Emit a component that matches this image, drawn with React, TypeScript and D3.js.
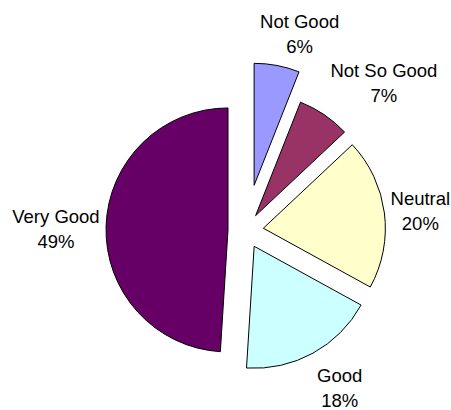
import React from "react";
import * as d3 from "d3";

const categories = ["Not Good", "Not So Good", "Neutral", "Good", "Very Good"];
const values = [6, 7, 20, 18, 49];
const percentLabels = ["6%", "7%", "20%", "18%", "49%"];

// styling
const colors = ["#9999FF", "#993366", "#FFFFCC", "#CCFFFF", "#660066"];
const explode = [46, 18, 18, 18, 17.5];
// label placement relative to slice apex: [distance, angle in degrees]
const labelPolar: [number, number][] = [
  [164.1, 163.9],
  [189.2, 137.3],
  [158.7, 98.4],
  [160.4, 32.2],
  [172.2, 267.6],
];

const W = 451;
const H = 410;
const CX = 245.5;
const CY = 230.5;
const R = 122;

export default function App() {
  const pie = d3
    .pie<number>()
    .sort(null)
    .value((d) => d)
    .startAngle(0)
    .endAngle(2 * Math.PI);
  const arcs = pie(values);
  const arcGen = d3.arc<d3.PieArcDatum<number>>().innerRadius(0).outerRadius(R);

  return (
    <svg
      width={W}
      height={H}
      style={{ position: "absolute", left: 0, top: 0, background: "#fff" }}
      fontFamily="'Liberation Sans', Arial, sans-serif"
      fontSize={18.5}
    >
      {arcs.map((a, i) => {
        const mid = (a.startAngle + a.endAngle) / 2;
        const ox = CX + explode[i] * Math.sin(mid);
        const oy = CY - explode[i] * Math.cos(mid);
        const [ld, la] = labelPolar[i];
        const lr = (la * Math.PI) / 180;
        const lx = ox + ld * Math.sin(lr);
        const ly = oy + ld * Math.cos(lr);
        return (
          <g key={categories[i]}>
            <path
              d={arcGen(a) || ""}
              transform={`translate(${ox},${oy})`}
              fill={colors[i]}
              stroke="#000"
              strokeWidth={1}
              strokeLinejoin="round"
            />
            <text x={lx} y={ly} textAnchor="middle" fill="#000">
              <tspan x={lx} dy={0}>{categories[i]}</tspan>
              <tspan x={lx} dy={25}>{percentLabels[i]}</tspan>
            </text>
          </g>
        );
      })}
    </svg>
  );
}
